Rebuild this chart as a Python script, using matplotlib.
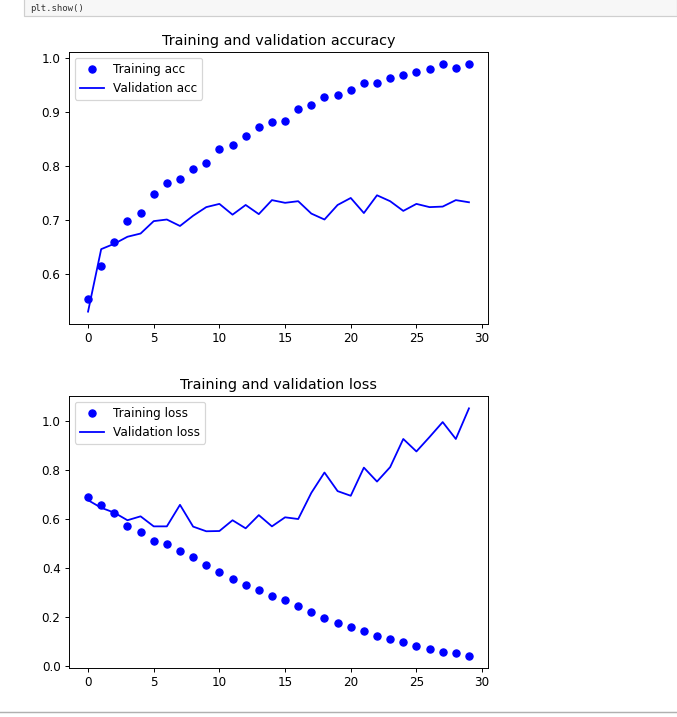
import matplotlib
matplotlib.use("Agg")
import matplotlib.pyplot as plt
from matplotlib.patches import Rectangle

epochs = list(range(30))
train_acc = [0.553, 0.615, 0.659, 0.699, 0.713, 0.748, 0.768, 0.776, 0.794, 0.805,
             0.831, 0.840, 0.856, 0.873, 0.882, 0.884, 0.907, 0.914, 0.928, 0.933,
             0.942, 0.954, 0.954, 0.963, 0.970, 0.975, 0.981, 0.989, 0.982, 0.989]
val_acc = [0.530, 0.646, 0.656, 0.669, 0.675, 0.698, 0.701, 0.689, 0.708, 0.724,
           0.730, 0.710, 0.728, 0.711, 0.737, 0.732, 0.735, 0.712, 0.701, 0.728,
           0.741, 0.713, 0.746, 0.735, 0.717, 0.730, 0.724, 0.725, 0.737, 0.733]
train_loss = [0.689, 0.659, 0.624, 0.573, 0.547, 0.512, 0.497, 0.471, 0.445, 0.415,
              0.384, 0.358, 0.332, 0.313, 0.288, 0.269, 0.247, 0.221, 0.197, 0.175,
              0.160, 0.145, 0.125, 0.110, 0.099, 0.084, 0.069, 0.058, 0.054, 0.043]
val_loss = [0.678, 0.647, 0.627, 0.596, 0.612, 0.571, 0.571, 0.659, 0.570, 0.551,
            0.552, 0.596, 0.563, 0.617, 0.571, 0.608, 0.601, 0.708, 0.791, 0.715,
            0.696, 0.811, 0.754, 0.813, 0.928, 0.877, 0.936, 0.997, 0.928, 1.053]

W, H = 677, 717
DPI = 86.4
fig = plt.figure(figsize=(W / DPI, H / DPI), dpi=DPI)

def ax_rect(x0, y0, x1, y1):
    return [x0 / W, 1 - y1 / H, (x1 - x0) / W, (y1 - y0) / H]

# notebook chrome
fig.patches.append(Rectangle((24 / W, 1 - 16 / H), (W - 24) / W, 20 / H,
                             transform=fig.transFigure, facecolor="#f7f7f7",
                             edgecolor="#cfcfcf", linewidth=1, zorder=0))
fig.text(30 / W, 1 - 13 / H, "plt.show()", family="monospace", fontsize=7.5,
         color="#333333", va="bottom", ha="left")
fig.lines.append(plt.Line2D([0, 1], [1 - 712 / H, 1 - 712 / H],
                            transform=fig.transFigure, color="#b0b0b0", linewidth=1.2))

ax1 = fig.add_axes(ax_rect(69, 52, 488, 324))
ax1.plot(epochs, train_acc, 'bo', label='Training acc')
ax1.plot(epochs, val_acc, 'b', label='Validation acc')
ax1.set_title('Training and validation accuracy')
ax1.legend(loc='upper left')

ax2 = fig.add_axes(ax_rect(69, 396, 488, 668))
ax2.plot(epochs, train_loss, 'bo', label='Training loss')
ax2.plot(epochs, val_loss, 'b', label='Validation loss')
ax2.set_title('Training and validation loss')
ax2.legend(loc='upper left')

fig.savefig("out.png", dpi=DPI)
